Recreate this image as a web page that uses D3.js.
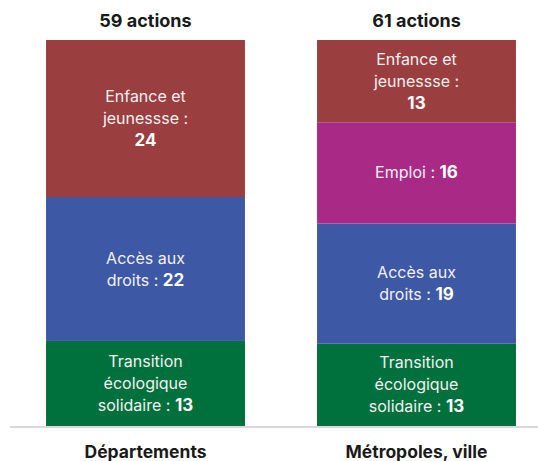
<!DOCTYPE html>
<html>
<head>
<meta charset="utf-8">
<script src="https://cdn.jsdelivr.net/npm/d3@7"></script>
<style>
  body { margin: 0; background: #fff; }
  svg { display: block; font-family: "Inter", "Open Sans", sans-serif; }
</style>
</head>
<body>
<svg id="chart" width="538" height="461"></svg>
<script>
// categories along the x axis
const categories = ["Départements", "Métropoles, ville"];
const totals = ["59 actions", "61 actions"];

// series, bottom to top
const seriesKeys = ["transition", "acces", "emploi", "enfance"];
const transition = [13, 13];
const acces = [22, 19];
const emploi = [0, 16];
const enfance = [24, 13];

const seriesLabels = [
  ["Transition", "écologique", "solidaire :"],
  ["Accès aux", "droits :"],
  ["Emploi :"],
  ["Enfance et", "jeunessse :"]
];
// number goes on its own line for these series
const numberOwnLine = [false, false, false, true];

const colors = ["#00703c", "#3d58a4", "#a82a86", "#9a3e3f"];

const width = 538, height = 461;
const margin = { top: 40, bottom: 35 };

const svg = d3.select("#chart");

const data = categories.map((c, i) => ({
  category: c,
  transition: transition[i],
  acces: acces[i],
  emploi: emploi[i],
  enfance: enfance[i]
}));

const x = d3.scaleBand()
  .domain(categories)
  .range([10, 552])
  .paddingInner(0.266)
  .paddingOuter(0.133);

const y = d3.scaleLinear()
  .domain([0, 1])
  .range([height - margin.bottom, margin.top]);

const stacked = d3.stack()
  .keys(seriesKeys)
  .offset(d3.stackOffsetExpand)(data);

const layers = svg.selectAll(".layer")
  .data(stacked)
  .join("g")
  .attr("class", "layer")
  .attr("fill", (d, i) => colors[i]);

layers.selectAll("rect")
  .data(d => d.filter(p => p[1] > p[0]))
  .join("rect")
  .attr("x", d => x(d.data.category))
  .attr("y", d => y(d[1]))
  .attr("width", x.bandwidth())
  .attr("height", d => y(d[0]) - y(d[1]));

// segment labels
const lineH = 22;
stacked.forEach((layer, si) => {
  layer.forEach(p => {
    if (p[1] <= p[0]) return;
    const value = p.data[seriesKeys[si]];
    const lines = seriesLabels[si].map(t => ({ text: t, num: null }));
    if (numberOwnLine[si]) lines.push({ text: "", num: value });
    else lines[lines.length - 1].num = value;
    const cx = x(p.data.category) + x.bandwidth() / 2;
    const cy = (y(p[0]) + y(p[1])) / 2;
    const y0 = cy - (lines.length - 1) * lineH / 2;
    lines.forEach((ln, li) => {
      const t = svg.append("text")
        .attr("x", cx)
        .attr("y", y0 + li * lineH)
        .attr("dy", "0.35em")
        .attr("text-anchor", "middle")
        .attr("fill", "#f4f0f2")
        .attr("font-size", 16);
      if (ln.text) t.append("tspan").text(ln.text + (ln.num !== null ? " " : ""));
      if (ln.num !== null) {
        t.append("tspan")
          .attr("font-weight", 700)
          .attr("font-size", 17)
          .attr("fill", "#ffffff")
          .text(ln.num);
      }
    });
  });
});

// baseline
svg.append("line")
  .attr("x1", 10)
  .attr("x2", width)
  .attr("y1", y(0) + 1)
  .attr("y2", y(0) + 1)
  .attr("stroke", "#d9d9d9")
  .attr("stroke-width", 2);

// totals above bars
svg.selectAll(".total")
  .data(categories)
  .join("text")
  .attr("class", "total")
  .attr("x", d => x(d) + x.bandwidth() / 2)
  .attr("y", 21)
  .attr("dy", "0.35em")
  .attr("text-anchor", "middle")
  .attr("font-weight", 700)
  .attr("font-size", 18)
  .attr("fill", "#1a1a1a")
  .text((d, i) => totals[i]);

// category labels
svg.selectAll(".cat")
  .data(categories)
  .join("text")
  .attr("class", "cat")
  .attr("x", d => x(d) + x.bandwidth() / 2)
  .attr("y", 452)
  .attr("dy", "0.35em")
  .attr("text-anchor", "middle")
  .attr("font-weight", 700)
  .attr("font-size", 17.5)
  .attr("fill", "#1a1a1a")
  .text(d => d);
</script>
</body>
</html>
